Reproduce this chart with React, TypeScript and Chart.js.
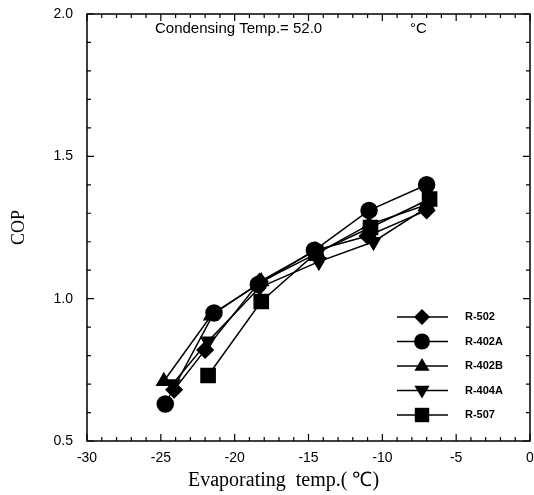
import React, { useEffect, useRef } from "react";
import { Chart, registerables } from "chart.js";

Chart.register(...registerables);

const seriesNames = ["R-502", "R-402A", "R-402B", "R-404A", "R-507"];

const r502X = [-24.1, -22.0, -18.3, -14.5, -11.0, -7.0];
const r502Y = [0.68, 0.82, 1.06, 1.17, 1.22, 1.31];

const r402aX = [-24.7, -21.4, -18.4, -14.6, -10.9, -7.0];
const r402aY = [0.63, 0.95, 1.05, 1.17, 1.31, 1.40];

const r402bX = [-24.8, -21.6, -18.2, -14.4, -10.9, -7.0];
const r402bY = [0.71, 0.94, 1.06, 1.16, 1.26, 1.33];

const r404aX = [-24.2, -21.8, -18.3, -14.3, -10.6, -7.0];
const r404aY = [0.70, 0.85, 1.04, 1.13, 1.20, 1.32];

const r507X = [-21.8, -18.2, -14.5, -10.8, -6.8];
const r507Y = [0.73, 0.99, 1.16, 1.25, 1.35];

const xTicks = [-30, -25, -20, -15, -10, -5, 0];
const yTicks = [0.5, 1.0, 1.5, 2.0];

const titleMain = "Condensing Temp.= 52.0";
const titleUnit = "°C";
const xTitle = "Evaporating  temp.( ℃)";
const yTitle = "COP";

const styles = [
  { pointStyle: "rectRot", radius: 8, rotation: 0 },
  { pointStyle: "circle", radius: 8, rotation: 0 },
  { pointStyle: "triangle", radius: 8, rotation: 0 },
  { pointStyle: "triangle", radius: 8, rotation: 180 },
  { pointStyle: "rect", radius: 10, rotation: 0 },
];

function pts(xs: number[], ys: number[]) {
  return xs.map((x, i) => ({ x, y: ys[i] }));
}

function drawMarker(ctx: CanvasRenderingContext2D, idx: number, x: number, y: number, s: number) {
  ctx.beginPath();
  if (idx === 0) {
    ctx.moveTo(x, y - s);
    ctx.lineTo(x + s, y);
    ctx.lineTo(x, y + s);
    ctx.lineTo(x - s, y);
    ctx.closePath();
  } else if (idx === 1) {
    ctx.arc(x, y, s, 0, Math.PI * 2);
  } else if (idx === 2) {
    ctx.moveTo(x, y - s);
    ctx.lineTo(x + s * 0.95, y + s * 0.6);
    ctx.lineTo(x - s * 0.95, y + s * 0.6);
    ctx.closePath();
  } else if (idx === 3) {
    ctx.moveTo(x, y + s);
    ctx.lineTo(x + s * 0.95, y - s * 0.6);
    ctx.lineTo(x - s * 0.95, y - s * 0.6);
    ctx.closePath();
  } else {
    ctx.rect(x - s * 0.8, y - s * 0.8, s * 1.6, s * 1.6);
  }
  ctx.fill();
}

const framePlugin = {
  id: "frame",
  afterDraw(chart: any) {
    const { ctx, chartArea } = chart;
    const xs = chart.scales.x;
    const ys = chart.scales.y;
    const { left, right, top, bottom } = chartArea;
    ctx.save();
    ctx.strokeStyle = "#000";
    ctx.lineWidth = 1.5;
    ctx.strokeRect(left, top, right - left, bottom - top);
    ctx.lineWidth = 1.2;
    for (let v = -30; v <= 0; v += 1) {
      const px = xs.getPixelForValue(v);
      const len = v % 5 === 0 ? 7 : 4;
      ctx.beginPath();
      ctx.moveTo(px, bottom);
      ctx.lineTo(px, bottom - len);
      ctx.moveTo(px, top);
      ctx.lineTo(px, top + len);
      ctx.stroke();
    }
    for (let k = 5; k <= 20; k++) {
      const v = k / 10;
      const py = ys.getPixelForValue(v);
      const len = k % 5 === 0 ? 7 : 4;
      ctx.beginPath();
      ctx.moveTo(left, py);
      ctx.lineTo(left + len, py);
      ctx.moveTo(right, py);
      ctx.lineTo(right - len, py);
      ctx.stroke();
    }
    // title inside plot
    ctx.fillStyle = "#000";
    ctx.font = "15px 'Liberation Sans', Arial, sans-serif";
    ctx.textBaseline = "middle";
    ctx.textAlign = "left";
    ctx.fillText(titleMain, left + 68, top + 15);
    ctx.fillText(titleUnit, left + 323, top + 15);
    // x axis title
    ctx.font = "20px 'Liberation Serif', 'Times New Roman', serif";
    ctx.fillText(xTitle, left + 101, bottom + 40);
    // legend
    const lx0 = left + 310;
    const lx1 = left + 361;
    const lm = left + 335;
    const ly0 = top + 303;
    const dy = 24.5;
    ctx.font = "bold 11px 'Liberation Sans', Arial, sans-serif";
    for (let i = 0; i < seriesNames.length; i++) {
      const y = ly0 + i * dy;
      ctx.lineWidth = 1.6;
      ctx.beginPath();
      ctx.moveTo(lx0, y);
      ctx.lineTo(lx1, y);
      ctx.stroke();
      drawMarker(ctx, i, lm, y, i === 4 ? 9 : 8);
      ctx.fillText(seriesNames[i], left + 378, y);
    }
    ctx.restore();
  },
};

export default function App() {
  const ref = useRef<HTMLCanvasElement | null>(null);
  useEffect(() => {
    if (!ref.current) return;
    const all = [
      pts(r502X, r502Y),
      pts(r402aX, r402aY),
      pts(r402bX, r402bY),
      pts(r404aX, r404aY),
      pts(r507X, r507Y),
    ];
    const chart = new Chart(ref.current, {
      type: "line",
      data: {
        datasets: all.map((d, i) => ({
          label: seriesNames[i],
          data: d,
          borderColor: "#000",
          backgroundColor: "#000",
          borderWidth: 1.5,
          pointStyle: styles[i].pointStyle as any,
          pointRadius: styles[i].radius,
          pointRotation: styles[i].rotation,
          pointBackgroundColor: "#000",
          pointBorderColor: "#000",
          tension: 0,
        })),
      },
      options: {
        animation: false,
        responsive: false,
        maintainAspectRatio: false,
        layout: { autoPadding: false, padding: { left: 0, right: 4, top: 14, bottom: 0 } },
        plugins: { legend: { display: false }, tooltip: { enabled: false } },
        scales: {
          x: {
            type: "linear",
            min: -30,
            max: 0,
            afterBuildTicks: (s: any) => {
              s.ticks = xTicks.map((v) => ({ value: v }));
            },
            afterFit: (s: any) => {
              s.height = 54;
              s.paddingLeft = 0;
              s.paddingRight = 0;
            },
            grid: { display: false, drawTicks: false },
            border: { display: false },
            ticks: {
              color: "#000",
              padding: 9,
              font: { family: "'Liberation Sans', Arial, sans-serif", size: 14 },
              callback: (v: any) => String(v),
            },
            title: { display: false },
          },
          y: {
            type: "linear",
            min: 0.5,
            max: 2.0,
            afterBuildTicks: (s: any) => {
              s.ticks = yTicks.map((v) => ({ value: v }));
            },
            afterFit: (s: any) => {
              s.width = 87;
              s.paddingTop = 0;
              s.paddingBottom = 0;
            },
            grid: { display: false, drawTicks: false },
            border: { display: false },
            ticks: {
              color: "#000",
              padding: 14,
              font: { family: "'Liberation Sans', Arial, sans-serif", size: 14 },
              callback: (v: any) => Number(v).toFixed(1),
            },
            title: {
              display: true,
              text: yTitle,
              color: "#000",
              padding: { top: 8, bottom: 0 },
              font: { family: "'Liberation Serif', 'Times New Roman', serif", size: 18 },
            },
          },
        },
      },
      plugins: [framePlugin],
    });
    return () => chart.destroy();
  }, []);
  return (
    <div style={{ position: "fixed", left: 0, top: 0, width: 534, height: 495, background: "#fff" }}>
      <canvas ref={ref} width={534} height={495} style={{ display: "block" }} />
    </div>
  );
}
